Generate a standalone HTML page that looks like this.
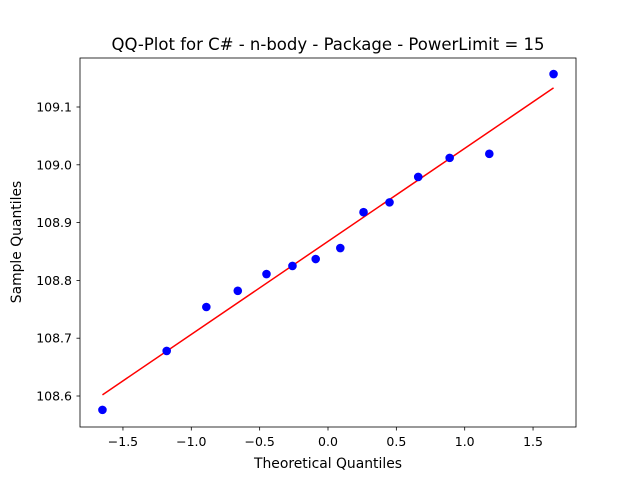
<!DOCTYPE html>
<html><head><meta charset="utf-8"><style>
body{margin:0;background:#fff;font-family:"Liberation Sans","DejaVu Sans",sans-serif;}
text{font-family:"DejaVu Sans","Liberation Sans",sans-serif;}
</style></head><body>
<svg id="chart" width="640" height="480" viewBox="0 0 640 480">
<rect width="640" height="480" fill="#fff"/>
<text x="328" y="50" font-size="16.5" text-anchor="middle">QQ-Plot for C# - n-body - Package - PowerLimit = 15</text>
<g id="plot"></g>
<rect x="80" y="58" width="496" height="369" fill="none" stroke="#000" stroke-width="0.8"/>
<text x="328" y="468" font-size="13.9" text-anchor="middle">Theoretical Quantiles</text>
<text transform="translate(21,242) rotate(-90)" font-size="13.9" text-anchor="middle">Sample Quantiles</text>
</svg>
<script>
const theoretical=[-1.65,-1.18,-0.89,-0.66,-0.45,-0.26,-0.09,0.09,0.26,0.45,0.66,0.89,1.18,1.65];
const sample=[108.576,108.678,108.754,108.782,108.811,108.825,108.837,108.856,108.918,108.935,108.979,109.012,109.019,109.157];
const fitX=[-1.65,1.65];
const fitY=[108.602,109.133];
const xTicks=[-1.5,-1.0,-0.5,0.0,0.5,1.0,1.5];
const yTicks=[108.6,108.7,108.8,108.9,109.0,109.1];
const NS="http://www.w3.org/2000/svg";
const g=document.getElementById('plot');
function sx(v){return 328+v*136.7;}
function sy(v){return 396-(v-108.6)*578;}
function mk(t,a){const e=document.createElementNS(NS,t);for(const k in a)e.setAttribute(k,a[k]);g.appendChild(e);return e;}
xTicks.forEach(t=>{
 const l=mk('line',{x1:sx(t),x2:sx(t),y1:427,y2:430.5,stroke:'#000','stroke-width':0.8});
 
 
 const tx=mk('text',{x:sx(t),y:446,'font-size':12.5,'text-anchor':'middle'});
 tx.textContent=(t<0?'\u2212':'')+Math.abs(t).toFixed(1);
 
 
});
yTicks.forEach(t=>{
 const l=mk('line',{x1:76.5,x2:80,y1:sy(t),y2:sy(t),stroke:'#000','stroke-width':0.8});
 
 
 const tx=mk('text',{x:72,y:sy(t)+4.5,'font-size':12.5,'text-anchor':'end'});
 tx.textContent=t.toFixed(1);
 
 
});
const fl=mk('line',{x1:sx(fitX[0]),y1:sy(fitY[0]),x2:sx(fitX[1]),y2:sy(fitY[1]),stroke:'#ff0000','stroke-width':1.5});


theoretical.forEach((x,i)=>{
 const c=mk('circle',{cx:sx(x),cy:sy(sample[i]),r:4.3,fill:'#0000ff'});
 
 
});
</script>
</body></html>
